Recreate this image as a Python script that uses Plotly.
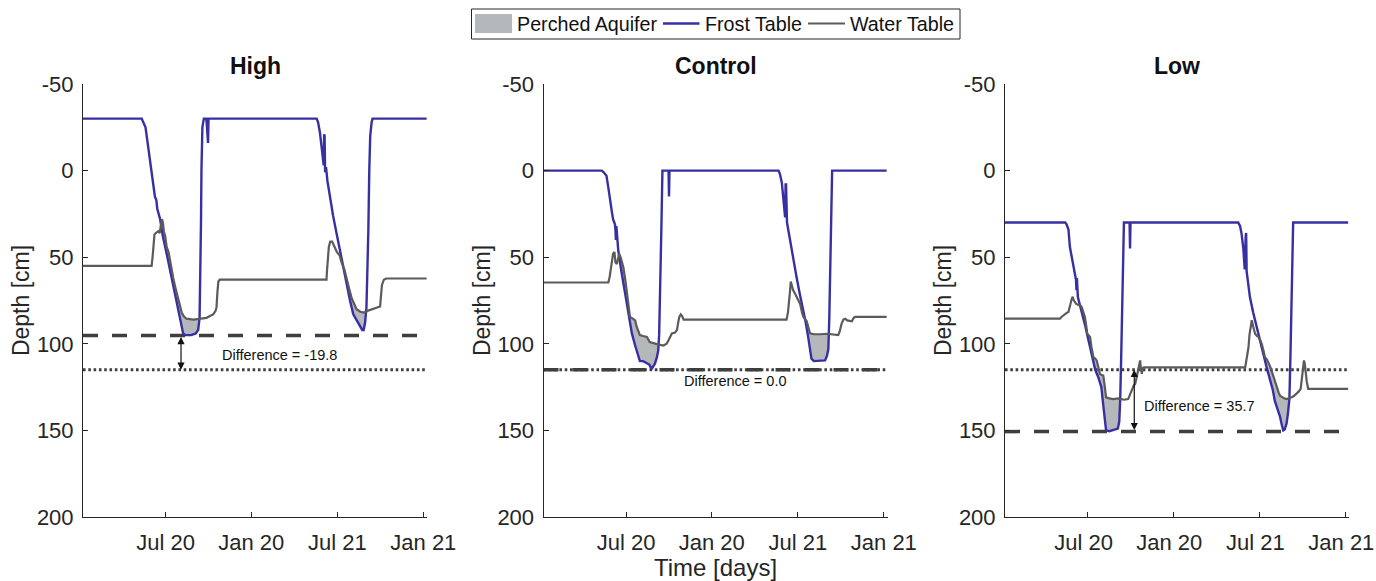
import numpy as np
import plotly.graph_objects as go

# ---------------- data (days since start, depth in cm) ----------------
TICK_DAYS = [176, 358, 541, 724]
TICK_LABELS = ["Jul 20", "Jan 20", "Jul 21", "Jan 21"]
Y_TICKS = [-50, 0, 50, 100, 150, 200]
Y_TICK_LABELS = ["-50", "0", "50", "100", "150", "200"]
PANEL_TITLES = ["High", "Control", "Low"]
LEGEND_NAMES = ["Perched Aquifer", "Frost Table", "Water Table"]

FT_HIGH_DAY = [0, 125, 128, 133, 138, 143, 146, 150, 153, 156, 158, 164, 170, 178, 185, 192, 199, 206, 210, 213, 218, 230, 240, 245, 248, 250, 251, 252, 254, 257, 262, 263, 265, 266, 267, 497, 500, 504, 507, 510, 512, 513, 514, 515, 517, 520, 526, 532, 540, 547, 554, 561, 568, 575, 585, 594, 597, 600, 603, 605, 607, 609, 611, 614, 616, 731]
FT_HIGH_CM = [-30, -30, -28, -25, -15, -5, 0, 6, 15, 17, 22, 28, 38, 48, 57, 67, 75, 83, 90, 94, 95, 95, 94, 92, 85, 60, 30, 0, -25, -30, -30, -28, -16, -16, -30, -30, -28, -22, -15, -8, -3, -21, -20, 1, -2, 6, 17, 26, 37, 47, 57, 67, 75, 83, 88, 92, 92, 88, 79, 60, 35, 0, -20, -28, -30, -30]
WT_HIGH_DAY = [0, 146, 148, 150, 152, 155, 160, 163, 166, 168, 170, 172, 175, 178, 182, 185, 189, 192, 196, 199, 203, 206, 210, 214, 220, 235, 255, 263, 270, 277, 282, 284, 286, 288, 291, 518, 519, 521, 523, 526, 530, 535, 540, 546, 550, 556, 561, 566, 572, 578, 582, 590, 597, 605, 611, 618, 625, 632, 634, 636, 640, 645, 731]
WT_HIGH_CM = [55, 55, 50, 40, 37, 36, 35, 36, 30, 28, 30, 35, 38, 44, 47, 52, 58, 62, 67, 70, 75, 78, 82, 84, 85.5, 86, 85.5, 85, 84, 83, 81, 79, 70, 64, 63, 63, 58, 50, 44, 41, 41, 44, 47, 49, 53, 57, 63, 68, 74, 78, 80, 81.5, 82, 81, 80.5, 80, 79.5, 78.5, 72, 66, 63, 62.3, 62.3]

FT_CTRL_DAY = [0, 124, 128, 134, 138, 141, 145, 148, 152, 153, 154, 155, 159, 165, 170, 175, 180, 184, 188, 195, 200, 205, 212, 219, 225, 230, 233, 237, 241, 244, 246, 248, 249, 251, 253, 266, 267, 268, 500, 503, 507, 511, 514, 515, 516, 518, 524, 531, 538, 545, 553, 558, 563, 567, 570, 575, 581, 590, 599, 603, 606, 608, 610, 612, 614, 730]
FT_CTRL_CM = [0, 0, 1, 3, 10, 17, 23, 28, 31, 34, 40, 32, 46, 57, 65, 73, 80, 88, 94, 101, 106, 110, 110, 111, 112, 114.5, 113, 111.5, 108, 104, 95, 75, 60, 30, 0, 0, 15, 0, 0, 2, 7, 18, 27, 8, 8, 30, 40, 51, 61, 71, 81, 88, 96, 103, 108.6, 110, 110, 110, 109.6, 107, 103, 85, 55, 25, 0, 0]
WT_CTRL_DAY = [0, 138, 141, 144, 148, 151, 153, 156, 159, 161, 164, 167, 170, 174, 177, 181, 184, 190, 195, 198, 202, 205, 212, 220, 226, 232, 237, 245, 255, 262, 266, 270, 273, 280, 284, 287, 289, 292, 295, 298, 517, 520, 523, 525, 526, 528, 531, 535, 539, 543, 546, 550, 553, 557, 560, 564, 567, 575, 581, 590, 603, 615, 627, 630, 634, 638, 642, 646, 652, 656, 660, 663, 730]
WT_CTRL_CM = [64.6, 64.6, 61, 55, 48, 47, 53, 54, 49, 48, 50, 53, 56, 63, 69, 77, 84.5, 85.5, 86.5, 90, 93, 95, 95.5, 96, 99, 99.5, 100, 100.5, 101, 100, 98, 96, 94, 93.5, 92, 87, 84.5, 83, 84, 86, 86, 82, 75, 68, 64, 66, 69, 71, 73, 75, 77, 82, 84.5, 86, 87, 91, 94, 94.5, 94.6, 94.5, 94.2, 94.5, 95, 93, 88.5, 86, 85.5, 86.5, 87, 87, 85, 84.5, 84.5]

FT_LOW_DAY = [0, 128, 131, 135, 138, 142, 145, 148, 151, 152, 153, 155, 160, 166, 171, 176, 182, 187, 192, 198, 202, 205, 208, 212, 215, 222, 230, 236, 240, 243, 245, 247, 248, 250, 253, 265, 266, 267, 496, 500, 503, 507, 510, 512, 513, 514, 517, 521, 528, 535, 542, 549, 556, 564, 570, 574, 580, 585, 589, 592, 595, 599, 602, 605, 607, 608, 610, 613, 730]
FT_LOW_CM = [30, 30, 31, 34, 44, 50, 55, 59, 63, 69, 62, 73, 78, 84.5, 90, 96, 103, 110, 115, 119, 122, 125, 133, 142, 150, 150.5, 150, 149.5, 149, 145, 133, 110, 94, 60, 30, 30, 45, 30, 30, 32, 36, 45, 57, 38, 36, 58, 65, 73, 82, 90, 98, 106, 113, 121, 127, 133, 138, 142, 147, 150, 149.5, 146, 140, 132, 110, 94, 60, 30, 30]
WT_LOW_DAY = [0, 117, 120, 124, 128, 132, 135, 138, 140, 142, 144, 146, 149, 151, 155, 160, 163, 167, 170, 173, 175, 178, 181, 184, 188, 192, 195, 199, 202, 206, 209, 212, 215, 222, 230, 241, 247, 253, 262, 266, 270, 274, 277, 280, 284, 286, 287.5, 289, 291, 293, 295, 511, 514, 518, 520, 522, 525, 528, 532, 536, 539, 543, 546, 550, 553, 557, 560, 564, 567, 571, 574, 578, 582, 585, 589, 594, 599, 605, 610, 615, 620, 625, 629, 631, 633, 635, 636, 638, 640, 642, 645, 730]
WT_LOW_CM = [85.5, 85.5, 84.5, 83.5, 82.6, 82, 81.6, 78, 76.8, 74, 72.9, 74.8, 76, 76.8, 77.5, 77.8, 78.7, 82, 84.5, 90, 94.2, 95, 96, 102, 107.7, 108.5, 109.6, 114, 117.4, 118, 118.3, 124, 130.9, 131.5, 131.9, 131.5, 132, 132.3, 131.9, 129, 127, 124, 123.2, 119, 115.5, 111, 109.6, 114, 117.4, 114, 113.6, 113.6, 108, 102, 95, 90.3, 86.4, 90, 94.2, 95.5, 96, 98, 99.9, 104, 107.7, 109, 110.6, 113, 115.5, 119, 122.2, 125, 128, 130, 130.9, 131.5, 131.9, 131.5, 130.9, 130, 128.9, 127.5, 126, 122, 117.4, 111, 109.6, 112, 117.4, 122, 126, 126]

# reference depths: (this treatment's max frost depth, control max frost depth)
TREAT_DEPTH = [95.2, 115.0, 150.7]
CONTROL_DEPTH = [115.0, 115.0, 115.0]
DIFF_TEXT = ["Difference = -19.8", "Difference = 0.0", "Difference = 35.7"]
ARROW_DAY = [208.5, None, 275]
TEXT_POS = [(291, 106.3), (295, 121.2), (291, 136.0)]

PANELS = [
    (FT_HIGH_DAY, FT_HIGH_CM, WT_HIGH_DAY, WT_HIGH_CM),
    (FT_CTRL_DAY, FT_CTRL_CM, WT_CTRL_DAY, WT_CTRL_CM),
    (FT_LOW_DAY, FT_LOW_CM, WT_LOW_DAY, WT_LOW_CM),
]

# ---------------- styles ----------------
FROST_COLOR = "#3730a3"
WATER_COLOR = "#5b5b5b"
FILL_COLOR = "#b5b8ba"
REF_COLOR = "#3f3f3f"
FONT = "Liberation Sans, Arial, Helvetica, sans-serif"
W, H = 1376, 581
X_LEFT = [83, 543.5, 1005]
X_WIDTH = 344
Y_TOP, Y_BOT = 84, 517
X_MAX = 731.8
X_LABEL_SHIFT = [0, 0, -4]


def perched_polygon(fx, fy, wx, wy):
    xs = np.union1d(np.asarray(fx, float), np.asarray(wx, float))
    f = np.interp(xs, fx, fy)
    w = np.interp(xs, wx, wy)
    X, F, Wt = [xs[0]], [f[0]], [w[0]]
    for i in range(1, len(xs)):
        d0, d1 = f[i - 1] - w[i - 1], f[i] - w[i]
        if d0 * d1 < 0:
            t = d0 / (d0 - d1)
            xc = xs[i - 1] + t * (xs[i] - xs[i - 1])
            wc = w[i - 1] + t * (w[i] - w[i - 1])
            X.append(xc); F.append(wc); Wt.append(wc)
        X.append(xs[i]); F.append(f[i]); Wt.append(w[i])
    X, F, Wt = np.array(X), np.array(F), np.array(Wt)
    upper = np.maximum(F, Wt)
    return np.concatenate([X, X[::-1]]), np.concatenate([upper, Wt[::-1]])


def px_x(v):
    return v / W


def px_y(v):
    return 1 - v / H


fig = go.Figure()
annotations = []
shapes = []
layout_axes = {}

for i, (fx, fy, wx, wy) in enumerate(PANELS):
    n = "" if i == 0 else str(i + 1)
    xa, ya = "x" + n, "y" + n
    px, py = perched_polygon(fx, fy, wx, wy)
    fig.add_trace(go.Scatter(x=px, y=py, xaxis=xa, yaxis=ya, mode="none", fill="toself",
                             fillcolor=FILL_COLOR, name=LEGEND_NAMES[0], showlegend=False, hoverinfo="skip"))
    fig.add_trace(go.Scatter(x=[0, X_MAX], y=[TREAT_DEPTH[i]] * 2, xaxis=xa, yaxis=ya, mode="lines",
                             line=dict(color=REF_COLOR, width=3.5, dash="15px,14px"), showlegend=False))
    fig.add_trace(go.Scatter(x=[0, X_MAX], y=[CONTROL_DEPTH[i]] * 2, xaxis=xa, yaxis=ya, mode="lines",
                             line=dict(color=REF_COLOR, width=3, dash="2.6px,2.7px"), showlegend=False))
    fig.add_trace(go.Scatter(x=fx, y=fy, xaxis=xa, yaxis=ya, mode="lines",
                             line=dict(color=FROST_COLOR, width=2.4), name=LEGEND_NAMES[1], showlegend=False))
    fig.add_trace(go.Scatter(x=wx, y=wy, xaxis=xa, yaxis=ya, mode="lines",
                             line=dict(color=WATER_COLOR, width=2.2), name=LEGEND_NAMES[2], showlegend=False))

    dom = [X_LEFT[i] / W, (X_LEFT[i] + X_WIDTH) / W]
    layout_axes["xaxis" + n] = dict(
        domain=dom, range=[0, X_MAX], anchor=ya, showline=True, linecolor="#262626", linewidth=1,
        ticks="inside", ticklen=5, tickcolor="#262626", tickvals=TICK_DAYS, ticktext=TICK_LABELS,
        showgrid=False, zeroline=False, tickfont=dict(size=22, color="#262626", family=FONT),
        ticklabelstandoff=6, ticklabelshift=X_LABEL_SHIFT[i], automargin=False, ticklabeloverflow="allow",
        title=dict(text="Time [days]" if i == 1 else "", font=dict(size=24, color="#262626", family=FONT), standoff=2),
    )
    layout_axes["yaxis" + n] = dict(
        domain=[1 - Y_BOT / H, 1 - Y_TOP / H], range=[200, -50], anchor=xa, showline=True,
        linecolor="#262626", linewidth=1, ticks="inside", ticklen=5, tickcolor="#262626",
        tickvals=Y_TICKS, ticktext=Y_TICK_LABELS, showgrid=False, zeroline=False,
        tickfont=dict(size=22, color="#262626", family=FONT), ticklabelstandoff=4, automargin=False,
        ticklabeloverflow="allow",
        title=dict(text="Depth [cm]", font=dict(size=23, color="#262626", family=FONT), standoff=0),
    )

    # panel title
    annotations.append(dict(text="<b>%s</b>" % PANEL_TITLES[i], xref="paper", yref="paper",
                            x=(X_LEFT[i] + X_WIDTH / 2) / W, y=1 - 66 / H, xanchor="center", yanchor="middle",
                            showarrow=False, font=dict(size=23, color="#111111", family=FONT)))
    # difference arrow
    if ARROW_DAY[i] is not None:
        annotations.append(dict(x=ARROW_DAY[i], y=CONTROL_DEPTH[i], ax=ARROW_DAY[i], ay=TREAT_DEPTH[i],
                                xref=xa, yref=ya, axref=xa, ayref=ya, text="", showarrow=True,
                                arrowhead=2, arrowsize=1.2, arrowwidth=1.2, arrowcolor="#111111",
                                arrowside="end+start", startarrowhead=2, startarrowsize=1.2))
    annotations.append(dict(text=DIFF_TEXT[i], x=TEXT_POS[i][0], y=TEXT_POS[i][1], xref=xa, yref=ya,
                            xanchor="left", yanchor="middle", showarrow=False,
                            font=dict(size=14.5, color="#111111", family=FONT)))

# ---------------- manual legend (box, swatches, labels) ----------------
LEG_BOX = (471.5, 9, 960, 39)
shapes.append(dict(type="rect", xref="paper", yref="paper", x0=px_x(LEG_BOX[0]), x1=px_x(LEG_BOX[2]),
                   y0=px_y(LEG_BOX[3]), y1=px_y(LEG_BOX[1]), line=dict(color="#262626", width=1),
                   fillcolor="white", layer="above"))
shapes.append(dict(type="rect", xref="paper", yref="paper", x0=px_x(475), x1=px_x(512),
                   y0=px_y(33), y1=px_y(14), line=dict(width=0), fillcolor=FILL_COLOR, layer="above"))
shapes.append(dict(type="line", xref="paper", yref="paper", x0=px_x(663), x1=px_x(699.5),
                   y0=px_y(23.5), y1=px_y(23.5), line=dict(color=FROST_COLOR, width=2.4), layer="above"))
shapes.append(dict(type="line", xref="paper", yref="paper", x0=px_x(808), x1=px_x(845),
                   y0=px_y(23.5), y1=px_y(23.5), line=dict(color=WATER_COLOR, width=2.2), layer="above"))
for name, xpos in zip(LEGEND_NAMES, [515, 702.5, 848]):
    annotations.append(dict(text=name, xref="paper", yref="paper", x=px_x(xpos), y=px_y(24),
                            xanchor="left", yanchor="middle", showarrow=False,
                            font=dict(size=19.7, color="#111111", family=FONT)))

fig.update_layout(
    width=W, height=H, margin=dict(l=0, r=0, t=0, b=0, autoexpand=False),
    paper_bgcolor="white", plot_bgcolor="white",
    font=dict(family=FONT, color="#262626"),
    showlegend=False,
    annotations=annotations,
    shapes=shapes,
    **layout_axes,
)

fig.write_html("out.html")
